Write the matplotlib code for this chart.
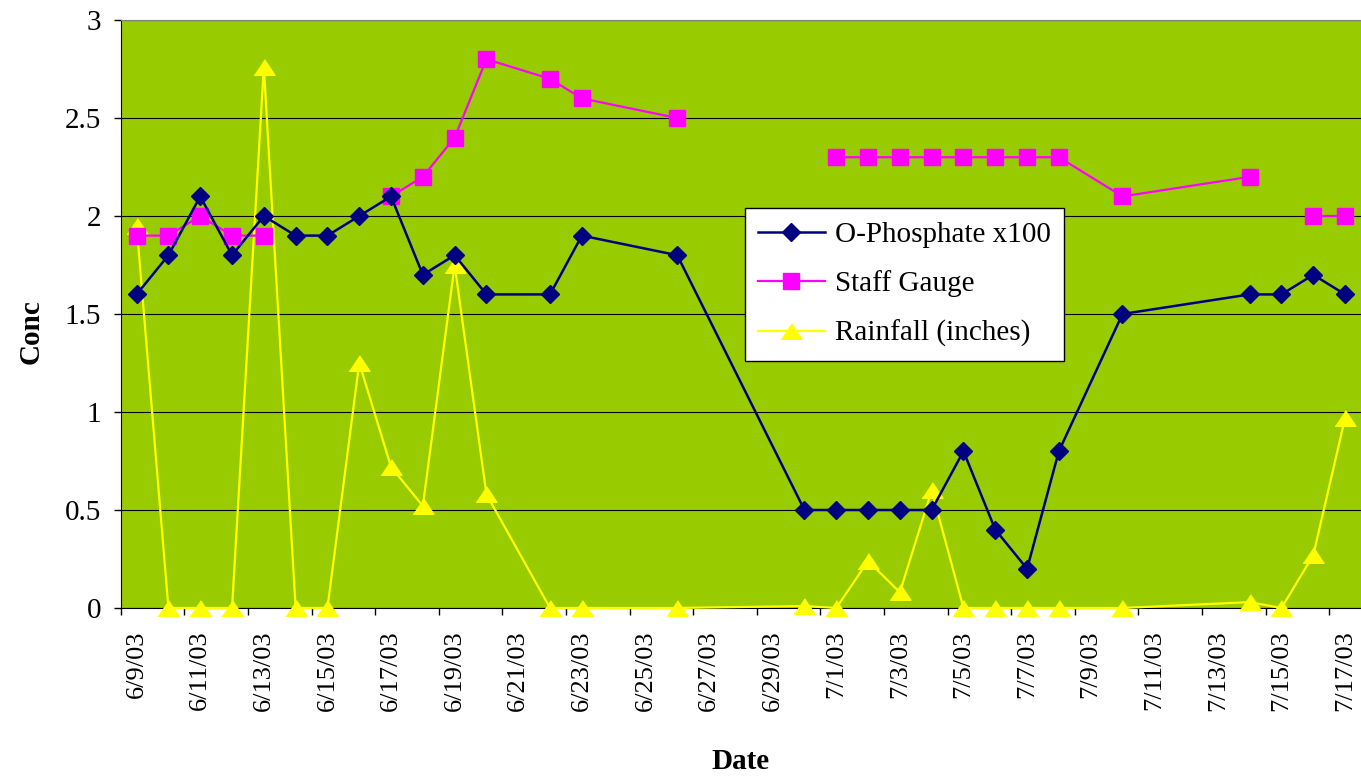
import matplotlib.pyplot as plt
import numpy as np
import pandas as pd

plt.rcParams['font.family'] = ['Liberation Serif', 'DejaVu Serif']

# sample dates (rows of the sheet)
dates = ['6/9/03', '6/10/03', '6/11/03', '6/12/03', '6/13/03', '6/14/03',
         '6/15/03', '6/16/03', '6/17/03', '6/18/03', '6/19/03', '6/20/03',
         '6/22/03', '6/23/03', '6/26/03', '6/30/03', '7/1/03', '7/2/03',
         '7/3/03', '7/4/03', '7/5/03', '7/6/03', '7/7/03', '7/8/03',
         '7/10/03', '7/14/03', '7/15/03', '7/16/03', '7/17/03']

phosphate = [1.6, 1.8, 2.1, 1.8, 2.0, 1.9, 1.9, 2.0, 2.1, 1.7, 1.8, 1.6,
             1.6, 1.9, 1.8, 0.5, 0.5, 0.5, 0.5, 0.5, 0.8, 0.4, 0.2, 0.8,
             1.5, 1.6, 1.6, 1.7, 1.6]
staff = [1.9, 1.9, 2.0, 1.9, 1.9, np.nan, np.nan, np.nan, 2.1, 2.2, 2.4, 2.8,
         2.7, 2.6, 2.5, np.nan, 2.3, 2.3, 2.3, 2.3, 2.3, 2.3, 2.3, 2.3,
         2.1, 2.2, np.nan, 2.0, 2.0]
rainfall = [1.95, 0, 0, 0, 2.76, 0, 0, 1.25, 0.72, 0.52, 1.75, 0.58,
            0, 0, 0, 0.01, 0, 0.24, 0.08, 0.6, 0, 0, 0, 0,
            0, 0.03, 0, 0.27, 0.97]

start, end = '6/9/03', '7/17/03'

d = pd.to_datetime(dates, format='%m/%d/%y')
t0 = pd.to_datetime(start, format='%m/%d/%y')
t1 = pd.to_datetime(end, format='%m/%d/%y')
x = np.array((d - t0).days)
ndays = (t1 - t0).days + 1

fig = plt.figure(figsize=(13.61, 7.76), dpi=100)
ax = fig.add_axes([0.0887, 0.2165, 0.9113, 0.7577])
ax.set_facecolor('#99CC00')

tri = [(-1, -0.75), (1, -0.75), (0, 0.75)]
ax.plot(x, rainfall, color='#FFFF00', lw=1.6, marker=tri, ms=15,
        label='Rainfall (inches)', zorder=3, clip_on=False)
ax.plot(x, staff, color='#FF00FF', lw=1.6, marker='s', ms=12,
        label='Staff Gauge', zorder=4, clip_on=False)
ax.plot(x, phosphate, color='#000080', lw=1.8, marker='D', ms=9,
        label='O-Phosphate x100', zorder=5, clip_on=False)

ax.set_xlim(-0.5, ndays - 0.5)
ax.set_ylim(0, 3)
ax.set_yticks(np.arange(0, 3.01, 0.5))
ax.set_yticklabels(['0', '0.5', '1', '1.5', '2', '2.5', '3'])
ax.yaxis.grid(True, color='black', lw=0.8)
ax.set_axisbelow(True)

lab_days = np.arange(0, ndays, 2)
ax.set_xticks(lab_days - 0.5)
ax.set_xticklabels([])
all_days = t0 + pd.to_timedelta(lab_days, unit='D')
ax.set_xticks(lab_days, minor=True)
ax.set_xticklabels([f'{t.month}/{t.day}/{t:%y}' for t in all_days],
                   minor=True, rotation=90, va='top', fontsize=19)
ax.tick_params(axis='x', which='minor', length=0, pad=16)
ax.tick_params(axis='x', which='major', length=5, width=1)
ax.tick_params(axis='y', length=5, width=1, pad=9, labelsize=21)

ax.spines['top'].set_color('#808080')
ax.spines['right'].set_color('#808080')

ax.set_ylabel('Conc', fontsize=21, fontweight='bold')
ax.yaxis.set_label_coords(-0.061, 0.47)
ax.set_xlabel('Date', fontsize=21, fontweight='bold')
ax.xaxis.set_label_coords(0.5, -0.238)

h, l = ax.get_legend_handles_labels()
leg = ax.legend(h[::-1], l[::-1], loc='upper left', bbox_to_anchor=(0.503, 0.68),
                fontsize=21, frameon=True, fancybox=False, framealpha=1,
                edgecolor='black', handlelength=2.3, labelspacing=0.78,
                borderpad=0.45, handletextpad=0.35, borderaxespad=0)
leg.get_frame().set_linewidth(1)
leg.set_zorder(10)

fig.savefig('out.png', dpi=100)
